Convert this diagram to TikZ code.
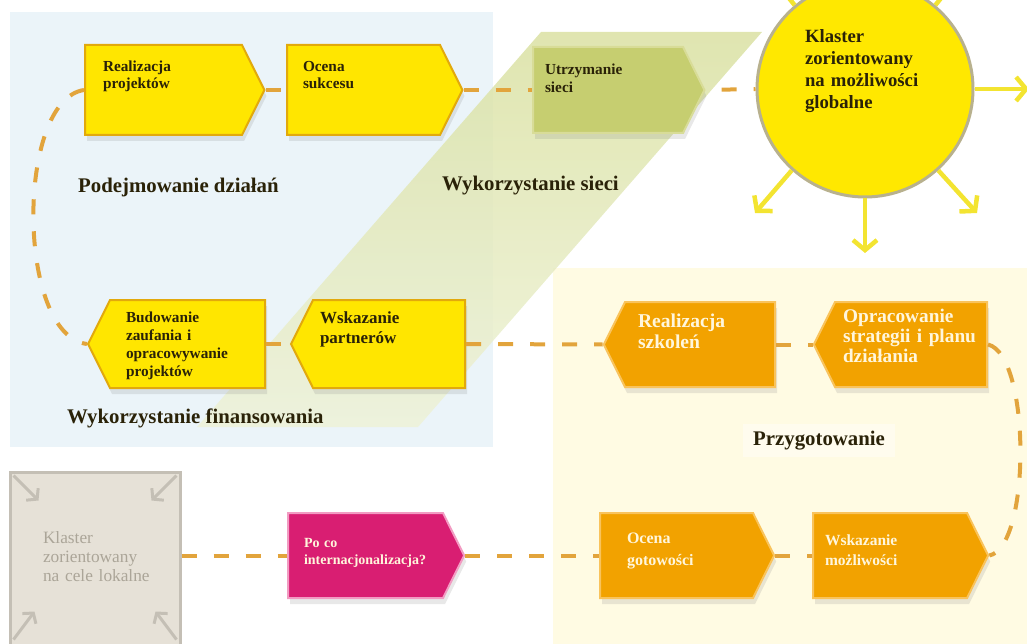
\documentclass[tikz,border=0pt]{standalone}
\usepackage{fontspec}
\setmainfont{Liberation Serif}
\usetikzlibrary{shapes.symbols,arrows.meta,shadows}

\definecolor{bluebg}{HTML}{EBF4F9}
\definecolor{creambg}{HTML}{FFFBE3}
\definecolor{bandtop}{HTML}{DAE1A2}
\definecolor{bandbot}{HTML}{EEF2D8}
\definecolor{yfill}{HTML}{FFE600}
\definecolor{yline}{HTML}{E2A90C}
\definecolor{gfill}{HTML}{C6CE70}
\definecolor{gline}{HTML}{D8DC98}
\definecolor{ofill}{HTML}{F2A200}
\definecolor{oline}{HTML}{F9C35C}
\definecolor{mfill}{HTML}{D91E72}
\definecolor{mline}{HTML}{F29BC2}
\definecolor{sunfill}{HTML}{FFE800}
\definecolor{sunline}{HTML}{B8B18E}
\definecolor{raycol}{HTML}{F3E431}
\definecolor{dashcol}{HTML}{E2A43C}
\definecolor{lfill}{HTML}{E6E1D7}
\definecolor{lline}{HTML}{C4BFB5}
\definecolor{ltext}{HTML}{ABA598}
\definecolor{dtext}{HTML}{2A2208}
\definecolor{wtext}{HTML}{FFF6DC}

\begin{document}
\begin{tikzpicture}[x=1pt,y=-1pt,
  box/.style={signal, signal pointer angle=127, inner ysep=0pt, line width=2pt, align=left,
    drop shadow={shadow xshift=2pt,shadow yshift=-6pt,opacity=.18}},
  ybox/.style={box, signal to=#1, fill=yfill, draw=yline, text=dtext},
  gbox/.style={box, signal to=#1, fill=gfill, draw=gline, text=dtext},
  obox/.style={box, signal to=#1, fill=ofill, draw=oline, text=wtext},
  mbox/.style={box, signal to=#1, fill=mfill, draw=mline, text=wtext},
  link/.style={draw=dashcol, line width=4pt, dash pattern=on 15pt off 17pt},
  ray/.style={draw=raycol, line width=4.5pt, -{Straight Barb[length=10pt,width=24pt]}},
  inarrow/.style={draw=lline, line width=3pt, -{Straight Barb[length=7pt,width=17pt]}},
  lab/.style={font=\bfseries\fontsize{20.8}{24}\selectfont, text=dtext, anchor=base west, inner sep=0pt}]

  \useasboundingbox (0,0) rectangle (1027,644);

  % backgrounds
  \fill[bluebg] (10,12) rectangle (493,447);
  \fill[creambg] (553,268) rectangle (1027,644);
  \shade[top color=bandtop, bottom color=bandbot, opacity=.85]
    (541,32) -- (762,32) -- (418,427) -- (197,427) -- cycle;

  % top row
  \node[ybox=east, text width=121pt, inner xsep=18pt, text height=27pt, text depth=63pt,
    font=\bfseries\fontsize{15.3}{17}\selectfont] (realiz) at (163.5,90) {Realizacja\\projektów};
  \node[ybox=east, text width=121pt, inner xsep=16pt, text height=27pt, text depth=63pt,
    font=\bfseries\fontsize{15.3}{17}\selectfont] (ocena) at (363.5,90) {Ocena\\sukcesu};
  \node[gbox=east, text width=126pt, inner xsep=12pt, text height=28pt, text depth=58pt,
    font=\bfseries\fontsize{15.3}{18}\selectfont] (utrzym) at (608,90) {Utrzymanie\\sieci};

  % sun
  \node[circle, minimum size=216pt, inner sep=0pt, fill=sunfill, draw=sunline, line width=3pt,
    text width=120pt, align=left, text height=13pt, text depth=105pt, text=dtext,
    font=\bfseries\fontsize{18.7}{22}\selectfont] (sun) at (865,89)
    {Klaster\\zorientowany\\na możliwości\\globalne};
  \coordinate (rayE) at (1029,89);
  \coordinate (rayS) at (865,253);
  \coordinate (raySW) at (755,213);
  \coordinate (raySE) at (977,213);
  \coordinate (rayNW) at (758,-40);
  \coordinate (rayNE) at (972,-40);
  \draw[ray] (sun.east) -- (rayE);
  \draw[ray] (sun.south) -- (rayS);
  \draw[ray] (sun.-132) -- (raySW);
  \draw[ray] (sun.-48) -- (raySE);
  \draw[ray] (sun.130) -- (rayNW);
  \draw[ray] (sun.50) -- (rayNE);

  % middle row
  \node[ybox=west, text width=123pt, inner xsep=16pt, text height=22pt, text depth=66pt,
    font=\bfseries\fontsize{15.3}{18}\selectfont] (budow) at (187.5,344)
    {Budowanie\\zaufania i\\opracowywanie\\projektów};
  \node[ybox=west, text width=138pt, inner xsep=7pt, text height=23pt, text depth=65pt,
    font=\bfseries\fontsize{17}{20}\selectfont] (wskazp) at (389,344) {Wskazanie\\partnerów};
  \node[obox=west, text width=124pt, inner xsep=13pt, text height=25pt, text depth=60pt,
    font=\bfseries\fontsize{19.6}{21}\selectfont] (realizs) at (700,344.5) {Realizacja\\szkoleń};
  \node[obox=west, text width=136pt, inner xsep=8pt, text height=20pt, text depth=65pt,
    font=\bfseries\fontsize{19.3}{20}\selectfont] (opr) at (911,344.5)
    {Opracowanie\\strategii i planu\\działania};

  % bottom row
  \node[draw=lline, fill=lfill, line width=3pt, text=ltext, align=left, inner ysep=0pt,
    text width=114pt, inner xsep=28pt, text height=71pt, text depth=103pt,
    font=\fontsize{17.3}{19}\selectfont,
    drop shadow={shadow xshift=2pt,shadow yshift=-6pt,opacity=.15}] (lokal) at (95,559)
    {\hspace*{5pt}Klaster\\\hspace*{5pt}zorientowany\\\hspace*{5pt}na cele lokalne};
  \draw[inarrow] ([shift={(5,5)}]lokal.north west) -- ([shift={(30,30)}]lokal.north west);
  \draw[inarrow] ([shift={(-5,5)}]lokal.north east) -- ([shift={(-30,30)}]lokal.north east);
  \draw[inarrow] ([shift={(5,-8)}]lokal.south west) -- ([shift={(26,-36)}]lokal.south west);
  \draw[inarrow] ([shift={(-5,-8)}]lokal.south east) -- ([shift={(-26,-36)}]lokal.south east);

  \node[mbox=east, text width=123pt, inner xsep=16pt, text height=34pt, text depth=51pt,
    font=\bfseries\fontsize{14}{17}\selectfont] (poco) at (365.5,555.5)
    {Po co\\internacjonalizacja?};
  \node[obox=east, text width=99pt, inner xsep=27pt, text height=30pt, text depth=55pt,
    font=\bfseries\fontsize{16}{22}\selectfont] (ocenag) at (676.5,555.5) {Ocena\\gotowości};
  \node[obox=east, text width=130pt, inner xsep=12pt, text height=32pt, text depth=53pt,
    font=\bfseries\fontsize{15.5}{20}\selectfont] (wskazm) at (890,555.5) {Wskazanie\\możliwości};

  % links
  \draw[link] (realiz.east) -- (ocena.west);
  \draw[link] (ocena.east) -- (utrzym.west);
  \draw[link, dash phase=-16pt] (utrzym.east) -- (sun.west);
  \draw[link] (budow.east) -- (wskazp.west);
  \draw[link] (wskazp.east) -- (realizs.west);
  \draw[link] (realizs.east) -- (opr.west);
  \draw[link] (lokal.east |- poco.west) -- (poco.west);
  \draw[link] (poco.east) -- (ocenag.west);
  \draw[link] (ocenag.east) -- (wskazm.west);
  \draw[link] (realiz.west) .. controls (16,100) and (16,335) .. (budow.west);
  \draw[link] (opr.east) .. controls (1031,355) and (1031,547) .. (wskazm.east);

  % phase labels
  \node[lab] (lpodej) at (78,193) {Podejmowanie działań};
  \node[lab] (lsieci) at (442,191) {Wykorzystanie sieci};
  \node[lab] (lfinan) at (67,423) {Wykorzystanie finansowania};
  \node[lab, fill=white, fill opacity=.4, text opacity=1, inner xsep=10pt, inner ysep=7pt]
    (lprzyg) at (743,445) {Przygotowanie};

\end{tikzpicture}
\end{document}
